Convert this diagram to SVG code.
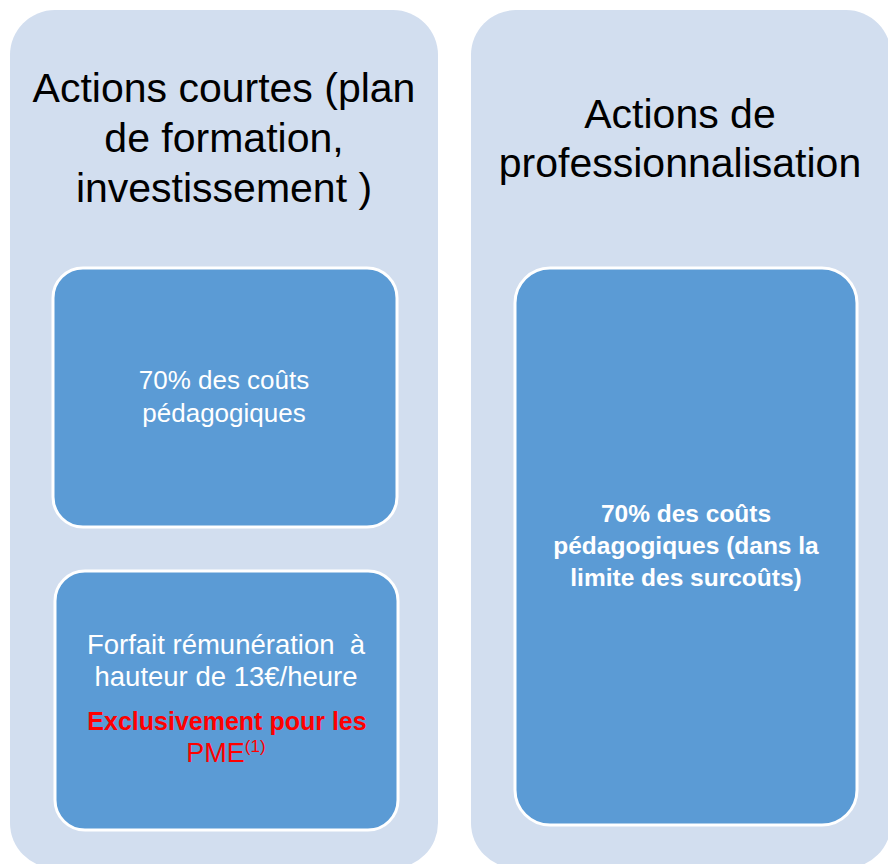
<svg xmlns="http://www.w3.org/2000/svg" width="888" height="864" viewBox="0 0 888 864">
<style>
.panel{fill:#D2DEEF}
.box{fill:#5B9BD5;stroke:#FFFFFF;stroke-width:3}
text{font-family:"Liberation Sans",Arial,sans-serif;text-anchor:middle}
.title{font-size:41px;fill:#000000}
.w{font-size:26px;fill:#FFFFFF}
.w2{font-size:27.5px;fill:#FFFFFF}
.wb{font-size:24.5px;fill:#FFFFFF;font-weight:bold}
.rb{font-size:25px;fill:#FF0000;font-weight:bold}
.r{font-size:27px;fill:#FF0000}
</style>
<rect width="888" height="864" fill="#FFFFFF"/>
<g id="panel-left">
<rect class="panel" x="10" y="10" width="428" height="858" rx="45" ry="45"/>
<text class="title" x="224" y="102">Actions courtes (plan</text>
<text class="title" x="224" y="152">de formation,</text>
<text class="title" x="224" y="202">investissement )</text>
</g>
<g id="panel-right">
<rect class="panel" x="471" y="10" width="420" height="858" rx="45" ry="45"/>
<text class="title" x="680" y="128">Actions de</text>
<text class="title" x="680" y="177">professionnalisation</text>
</g>
<g id="box-couts">
<rect class="box" x="53" y="268" width="344" height="259" rx="30" ry="30"/>
<text class="w" x="224" y="389">70% des coûts</text>
<text class="w" x="224" y="422">pédagogiques</text>
</g>
<g id="box-forfait">
<rect class="box" x="55" y="571" width="343" height="259" rx="30" ry="30"/>
<text class="w2" x="226" y="654" xml:space="preserve" style="white-space:pre">Forfait rémunération  à</text>
<text class="w2" x="226" y="686">hauteur de 13€/heure</text>
<text class="rb" x="227" y="730">Exclusivement pour les</text>
<text class="r" x="226" y="762">PME<tspan font-size="17" dy="-10">(1)</tspan></text>
</g>
<g id="box-pro">
<rect class="box" x="515" y="268" width="342" height="557" rx="35" ry="35"/>
<text class="wb" x="686" y="522">70% des coûts</text>
<text class="wb" x="686" y="554">pédagogiques (dans la</text>
<text class="wb" x="686" y="586">limite des surcoûts)</text>
</g>
<g id="connectors"/>
</svg>
